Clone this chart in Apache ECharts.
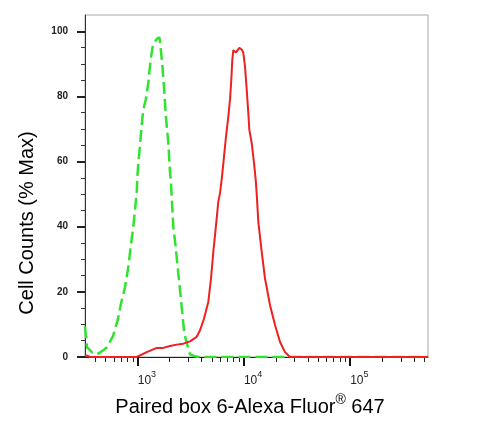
<!DOCTYPE html>
<html>
<head>
<meta charset="utf-8">
<script src="https://cdn.jsdelivr.net/npm/echarts@6/dist/echarts.min.js"></script>
<style>
  html, body { margin: 0; padding: 0; background: #fff; }
  #histogram { width: 490px; height: 428px; }
</style>
</head>
<body>
<div id="histogram"></div>
<script>
// intensity (linear) and % of max
var controlX = [319, 333, 372, 414, 471, 514, 585, 648, 697, 759, 816, 859, 909, 943, 979, 991, 1013, 1035, 1067, 1091,
  1129, 1190, 1259, 1286, 1334, 1384, 1455, 1519, 1597, 1622, 1704, 1780, 1848, 1942, 2014, 2059, 2089, 2164, 2279, 2360,
  2448, 2540, 2630, 2729, 2850, 3108, 3464, 3860, 10000, 100000, 541000];
var controlY = [9.4, 3.0, 1.4, 0.8, 2.0, 3.0, 6.4, 11.3, 16.5, 21.4, 27.6, 33.8, 40.0, 45.1, 50.7, 54.9, 59.5, 62.6, 67.6, 71.3,
  75.9, 79.0, 84.1, 87.3, 92.0, 95.3, 96.8, 97.7, 98.2, 96.9, 89.8, 81.5, 73.4, 65.7, 56.8, 53.4, 49.2, 40.0, 33.8, 28.7,
  23.6, 18.5, 13.4, 8.2, 5.1, 0.8, 0.2, 0, 0, 0, 0];

var paxX = [319, 356, 979, 1215, 1510, 1742, 2014, 2329, 2688, 3108, 3594, 3860, 4211, 4621, 4900, 5151, 5463, 5741, 5957, 6220,
  6495, 6784, 7132, 7398, 7610, 7777, 7947, 8425, 9052, 9535, 9872, 10242, 10626, 11001, 11241, 11842, 12451, 12919, 13201, 13667,
  14713, 15800, 17617, 19631, 21880, 24380, 27180, 541000];
var paxY = [0.6, 0, 0, 1.5, 2.8, 2.8, 3.4, 3.8, 4.1, 4.8, 6.2, 8.2, 11.8, 16.9, 24.1, 32.3, 40.5, 47.7, 50.3, 55.4,
  61.5, 67.7, 73.8, 79.0, 85.1, 91.3, 94.2, 93.5, 94.9, 94.4, 93.4, 89.2, 82.1, 74.9, 69.8, 65.7, 59.5, 54.4, 50.0, 41.5,
  32.3, 24.1, 15.9, 9.8, 4.6, 1.5, 0, 0];

var decades = [3, 4, 5];
var minorX = [400, 500, 600, 700, 800, 900, 2000, 3000, 4000, 5000, 6000, 7000, 8000, 9000,
  20000, 30000, 40000, 50000, 60000, 70000, 80000, 90000, 200000, 300000, 400000, 500000];
var yMajor = [0, 20, 40, 60, 80, 100];
var yMinor = [5, 10, 15, 25, 30, 35, 45, 50, 55, 65, 70, 75, 85, 90, 95];

var xMin = Math.log10(319), xMax = Math.log10(541000);

function toLog(xs, ys) {
  return xs.map(function (x, i) { return [Math.log10(x), ys[i]]; });
}

var chart = echarts.init(document.getElementById('histogram'));
chart.setOption({
  animation: false,
  grid: { left: 85, right: 62, top: 15, bottom: 71, show: true, borderColor: '#a6a6a6', borderWidth: 1 },
  xAxis: [{
    type: 'value', min: xMin, max: xMax,
    axisLine: { lineStyle: { color: '#222', width: 1 } },
    axisTick: { customValues: decades, length: 9, lineStyle: { color: '#111', width: 2 } },
    axisLabel: {
      customValues: decades, align: 'left', margin: 13,
      formatter: function (v) { return '{b|10}{s|' + Math.round(v) + '}'; },
      rich: {
        b: { fontSize: 12, fontFamily: 'Liberation Sans', color: '#222', lineHeight: 17, verticalAlign: 'bottom' },
        s: { fontSize: 9, fontFamily: 'Liberation Sans', color: '#222', verticalAlign: 'top', lineHeight: 17 }
      }
    },
    splitLine: { show: false }
  }, {
    type: 'value', min: xMin, max: xMax, position: 'bottom',
    axisLine: { show: false },
    axisTick: { customValues: minorX.map(function (v) { return Math.log10(v); }), length: 5, lineStyle: { color: '#222', width: 1 } },
    axisLabel: { show: false },
    splitLine: { show: false }
  }],
  yAxis: [{
    type: 'value', min: 0, max: 105, position: 'left',
    axisLine: { show: true, lineStyle: { color: '#333', width: 1 } },
    axisTick: { customValues: yMajor, length: 8, lineStyle: { color: '#222', width: 2 } },
    axisLabel: {
      customValues: yMajor, margin: 17, fontSize: 10, fontWeight: 'bold',
      fontFamily: 'Liberation Sans', color: '#222'
    },
    splitLine: { show: false }
  }, {
    type: 'value', min: 0, max: 105, position: 'left', offset: 0,
    axisLine: { show: false },
    axisTick: { show: true, customValues: yMinor, length: 4, lineStyle: { color: '#333', width: 1 } },
    axisLabel: { show: false },
    splitLine: { show: false }
  }],
  series: [{
    name: 'control',
    type: 'line',
    showSymbol: false,
    silent: true,
    data: toLog(controlX, controlY),
    lineStyle: { color: '#2fe32f', width: 2.5, type: [12, 5] },
    z: 3
  }, {
    name: 'Paired box 6',
    type: 'line',
    showSymbol: false,
    silent: true,
    data: toLog(paxX, paxY),
    lineStyle: { color: '#ee2020', width: 2 },
    z: 4
  }],
  graphic: [{
    type: 'text', x: 27, y: 223, rotation: Math.PI / 2,
    style: {
      text: 'Cell Counts (% Max)', fontSize: 20, fontFamily: 'Liberation Sans',
      fill: '#000', align: 'center', verticalAlign: 'middle'
    }
  }, {
    type: 'text', x: 250, y: 405,
    style: {
      text: '{a|Paired box 6-Alexa Fluor}{r|®}{a| 647}',
      align: 'center', verticalAlign: 'middle',
      rich: {
        a: { fontSize: 20, fontFamily: 'Liberation Sans', fill: '#000', lineHeight: 24, verticalAlign: 'bottom' },
        r: { fontSize: 14, fontFamily: 'Liberation Sans', fill: '#000', lineHeight: 24, verticalAlign: 'top' }
      }
    }
  }]
});
</script>
</body>
</html>
